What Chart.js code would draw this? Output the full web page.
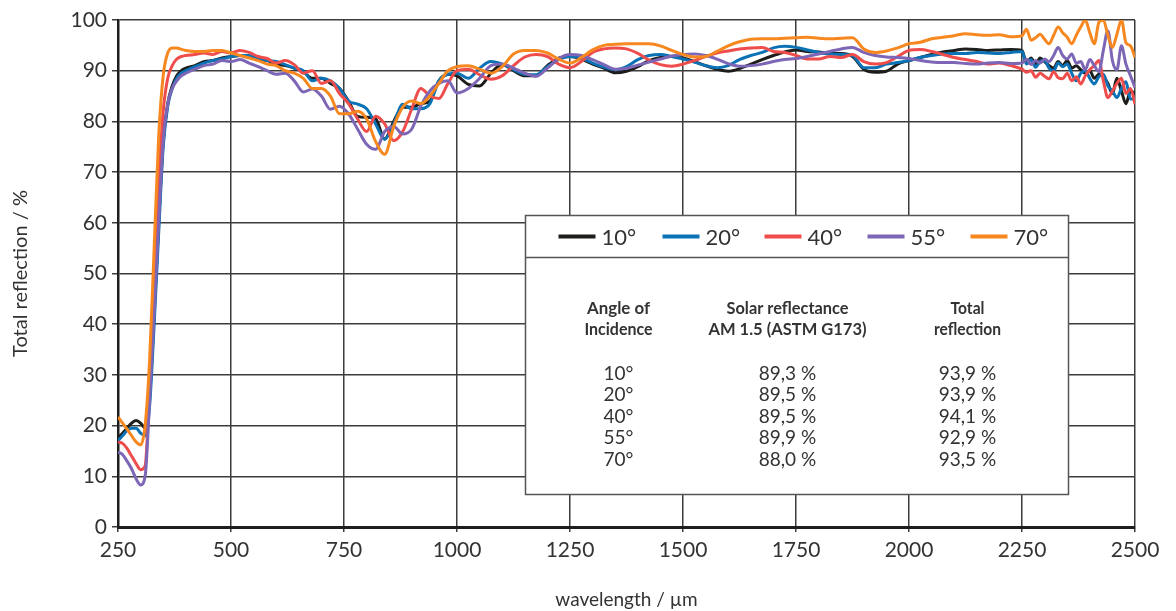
<!DOCTYPE html>
<html>
<head>
<meta charset="utf-8">
<script src="https://cdn.jsdelivr.net/npm/chart.js@4.4.0/dist/chart.umd.min.js"></script>
<style>
html, body { margin: 0; padding: 0; background: #fff; }
</style>
</head>
<body>
<canvas id="ChartReflection" width="1176" height="611"></canvas>
<script>
// wavelength grid (nm) shared by all curves
var wavelength = [250,260,270,280,290,300,310,320,330,340,350,360,370,380,390,
    400,420,440,460,480,500,520,540,560,580,600,620,640,660,680,700,720,740,760,780,800,820,840,860,880,900,920,940,960,980,
    1000,1025,1050,1075,1100,1125,1150,1175,1200,1225,1250,1275,1300,1325,1350,1375,1400,1425,1450,1475,1500,1525,1550,1575,1600,1625,1650,1675,1700,1725,1750,1775,1800,1825,1850,1875,1900,1925,1950,1975,2000,2025,2050,2075,2100,2125,2150,2175,2200,2225,
    2250,2260,2270,2280,2290,2300,2310,2320,2330,2340,2350,2360,2370,2380,2390,2400,2410,2420,2430,2440,2450,2460,2470,2480,2490,2500];

var refl10 = [17.5,18.5,19.5,20.5,21,20.5,19.5,26,42,60,76,83.5,87,89,90,
    90.5,91,91.8,92,92.5,92.8,93,92.8,92.3,92,91.3,91,90.5,89.8,88.5,88.5,87.5,86.5,84,81,80.8,80.5,76.5,80,82.8,82.8,83.5,84,88,89.3,
    89,87.3,87,89.5,91.2,90,89,89,91,92.5,92.8,92.3,91.3,90.5,89.6,89.9,90.8,92,92.6,92.8,92.5,91.8,91,90.3,89.9,90.4,91.3,92.2,93,93.7,94.1,93.8,93.7,93.4,93.4,92.8,90.3,89.7,89.9,91.3,92,92.6,93.2,93.7,94,94.3,94.2,94,94.1,94.2,
    94,91.5,92.5,91.3,92.5,91.8,91,90.5,91.8,91,92,90.5,91,90.2,89.5,90,88.5,89.3,88.8,87.5,85.5,88.5,86,83.5,86,85.5];

var refl20 = [17,18,19,19.5,19.5,18.5,18,24,40,58,75,83,86.5,88.5,89.5,
    90,90.8,91.5,92,92.3,92.8,93,93,92.5,92,91.8,91.2,90.5,90,88,88.5,88,86.5,84,83.4,82.5,79.5,76.5,79.5,83.4,82.5,82.5,83.5,88,89.3,
    89.5,88.5,90.5,91.8,91.3,90.2,89.3,89.2,90.8,92.2,92.8,92.5,91.5,90.7,90.2,90.8,92.2,93,93.2,92.8,92.3,91.7,91,90.6,91,92.2,93,93.6,94.5,94.8,94.6,94.1,93.6,93.3,93.2,93,90.6,90.6,91.3,91.6,92,92.6,93,93.3,93.4,93.4,93.6,93.5,93.4,93.6,
    93.8,91.3,92.2,90.7,91.8,92,90.5,90,91.5,90.8,91.3,89.5,88,89.5,90,88.5,87.4,88.8,89.3,87,86,84.7,86.5,87.8,84.4,84.4];

var refl40 = [16.8,16.5,15.5,14,12.5,11.3,12,28,48,68,82,88.5,91,92.3,92.8,
    93,93.2,93.5,93.2,93.8,93.5,94,93.6,92.8,92.4,91.5,92,91.2,89.5,90,87.5,88,85.5,83.5,80.5,78,81,79.5,76.2,78,82.5,86.5,85,84.5,87.5,
    90,90.3,89.2,88.3,89,91,92.7,93.2,92.8,91.3,90.6,91.8,93.6,94.3,94.5,94.3,93.4,92.1,91.2,90.9,91.3,92,92.8,93.5,93.9,94.3,94.5,94.6,93.8,93.6,93,92.3,92.3,92.8,92.6,93.2,91.8,91.3,91.6,92.8,94,94.2,93.8,93.2,92.6,92.2,91.8,91.3,91.5,91,
    90.3,89.7,90,88.7,89.5,88.9,88.4,89.8,88.6,88.4,89.5,88,88.8,87.4,89,90.2,91,92,88,84.7,86,87.5,88.5,85.5,86.5,83.4];

var refl55 = [14.8,14.3,13,11.5,9.5,8.3,10,25,42,60,76,83.5,86.5,88,89,
    89.5,90.3,91,91.3,92,91.8,92.2,91.5,90.8,90,89.3,89.5,88,85.8,86.4,85,82.4,83,81.5,78.5,75.5,74.5,78,79,77.5,78.5,83,86,87.5,88,
    85.6,86.5,88.5,91,91.3,90.5,89.5,88.9,90.5,92.4,93.2,93,92.2,91.2,90.3,90.5,91.1,91.7,92.3,92.9,93.2,93.3,93,92.3,91.4,90.9,91,91.3,91.8,92.2,92.4,92.8,93.3,93.8,94.3,94.6,93.6,93,92.7,92.6,92.4,92,91.7,91.6,91.6,91.4,91.3,91.5,91.6,91.4,
    91.5,92.3,91.2,92,91.5,92.3,91.8,93,94.6,93,92.3,93.3,91.5,91.8,90.2,92.2,91,89.8,94,97.9,92,90.2,94.9,91.3,89,86.7];

var refl70 = [21.7,20.5,19.3,18,16.8,16.2,20,33,55,77,89,93.5,94.5,94.5,94.2,
    94,93.8,93.8,94,94,93.5,93,92.5,92,91.3,91,90,89.5,88.5,86.5,86.5,85,81.5,81.5,82,80.5,76,73.5,79,82.8,84,83.5,85,87.5,90,
    90.8,91,90.3,89.5,90.8,93.3,94,94,93.5,92.3,91.5,92.6,94.1,95,95.2,95.3,95.3,95.3,94.9,94,93.2,92.7,92.8,93.8,94.9,95.7,96.2,96.3,96.3,96.4,96.5,96.6,96.4,96.3,96.4,96.5,94.3,93.6,93.9,94.5,95.3,95.6,96.3,96.6,96.9,97.3,97.1,97,97.1,96.7,
    96.9,98.2,96,96.5,97.2,96.2,95.3,97,98.6,97.5,96.6,95.3,97,98.6,100,97.5,95.3,99.5,100,97,94.6,97.2,100,95.5,94.9,92.6];

// legend + table inside the plot
var angleLabels = ['10°', '20°', '40°', '55°', '70°'];
var solarReflectance = ['89,3 %', '89,5 %', '89,5 %', '89,9 %', '88,0 %'];
var totalReflection = ['93,9 %', '93,9 %', '94,1 %', '92,9 %', '93,5 %'];

var xTicks = [250, 500, 750, 1000, 1250, 1500, 1750, 2000, 2250, 2500];

var colors = ['#1d1d1b', '#0b72b5', '#ef4d4b', '#7c66b5', '#f7871f'];
var series = [refl10, refl20, refl40, refl55, refl70];

function toPoints(values) {
    return values.map(function(v, i) { return { x: wavelength[i], y: v }; });
}

var datasets = series.map(function(values, i) {
    return {
        label: angleLabels[i],
        data: toPoints(values),
        borderColor: colors[i],
        backgroundColor: colors[i],
        borderWidth: 3,
        pointRadius: 0,
        fill: false,
        cubicInterpolationMode: 'monotone',
        order: 5 - i
    };
});

var FONT = 'Lato, "Noto Sans", sans-serif';
var TEXT = '#333333';

var tableBox = {
    id: 'tableBox',
    afterDatasetsDraw: function(chart) {
        var ctx = chart.ctx;
        var xs = chart.scales.x, ys = chart.scales.y;
        var left = Math.round(xs.getPixelForValue(1150)) + 0.5;
        var right = Math.round(xs.getPixelForValue(2352)) + 0.5;
        var top = Math.round(ys.getPixelForValue(61.5)) + 0.5;
        var bottom = Math.round(ys.getPixelForValue(6.5)) + 0.5;

        ctx.save();
        ctx.fillStyle = '#ffffff';
        ctx.fillRect(left, top, right - left, bottom - top);
        ctx.strokeStyle = '#555555';
        ctx.lineWidth = 1.5;
        ctx.strokeRect(left, top, right - left, bottom - top);
        ctx.beginPath();
        ctx.moveTo(left, top + 42);
        ctx.lineTo(right, top + 42);
        ctx.stroke();

        // legend row
        var legX = [33, 137, 239, 342, 445];
        ctx.font = '22px ' + FONT;
        ctx.textBaseline = 'middle';
        ctx.textAlign = 'left';
        for (var i = 0; i < angleLabels.length; i++) {
            var lx = left + legX[i];
            ctx.strokeStyle = colors[i];
            ctx.lineWidth = 4;
            ctx.beginPath();
            ctx.moveTo(lx, top + 21);
            ctx.lineTo(lx + 37, top + 21);
            ctx.stroke();
            ctx.fillStyle = TEXT;
            ctx.fillText(angleLabels[i], lx + 43, top + 22);
        }

        // table
        var cols = [left + 93, left + 262, left + 442];
        ctx.textAlign = 'center';
        ctx.font = 'bold 17px ' + FONT;
        ctx.fillText('Angle of', cols[0], top + 93, 63);
        ctx.fillText('Incidence', cols[0], top + 114, 68);
        ctx.fillText('Solar reflectance', cols[1], top + 93, 122);
        ctx.fillText('AM 1.5 (ASTM G173)', cols[1], top + 114, 158);
        ctx.fillText('Total', cols[2], top + 93, 34);
        ctx.fillText('reflection', cols[2], top + 114, 67);

        ctx.font = '19px ' + FONT;
        for (var r = 0; r < angleLabels.length; r++) {
            var ry = top + 158 + r * 21.5;
            ctx.fillText(angleLabels[r], cols[0], ry);
            ctx.fillText(solarReflectance[r], cols[1], ry);
            ctx.fillText(totalReflection[r], cols[2], ry);
        }
        ctx.restore();
    }
};

var ctxR = document.getElementById('ChartReflection').getContext('2d');
var reflChart = new Chart(ctxR, {
    type: 'line',
    data: { datasets: datasets },
    plugins: [tableBox],
    options: {
        responsive: false,
        animation: false,
        layout: { padding: { left: 0, right: 41, top: 20, bottom: 0 } },
        plugins: {
            legend: { display: false },
            tooltip: { enabled: false }
        },
        scales: {
            x: {
                type: 'linear',
                min: 250,
                max: 2500,
                afterBuildTicks: function(scale) {
                    scale.ticks = xTicks.map(function(v) { return { value: v }; });
                },
                afterFit: function(scale) { scale.height = 84; },
                ticks: {
                    color: TEXT,
                    font: { family: FONT, size: 21 },
                    padding: 6,
                    maxRotation: 0,
                    callback: function(v) { return String(v); }
                },
                grid: { color: '#3c3c3c', lineWidth: 1.5, tickLength: 5 },
                border: { color: '#1e1e1e', width: 3 },
                title: {
                    display: true,
                    text: 'wavelength / µm',
                    color: TEXT,
                    font: { family: FONT, size: 19 },
                    padding: { top: 0, bottom: 0 }
                }
            },
            y: {
                min: 0,
                max: 100,
                afterFit: function(scale) { scale.width = 118; },
                ticks: {
                    stepSize: 10,
                    color: TEXT,
                    font: { family: FONT, size: 21 },
                    padding: 5,
                    callback: function(v) { return String(v); }
                },
                grid: { color: '#3c3c3c', lineWidth: 1.5, tickLength: 6 },
                border: { color: '#1e1e1e', width: 2.5 },
                title: {
                    display: true,
                    text: 'Total reflection / %',
                    color: TEXT,
                    font: { family: FONT, size: 20 },
                    padding: { top: 9, bottom: 0 }
                }
            }
        }
    }
});
</script>
</body>
</html>
